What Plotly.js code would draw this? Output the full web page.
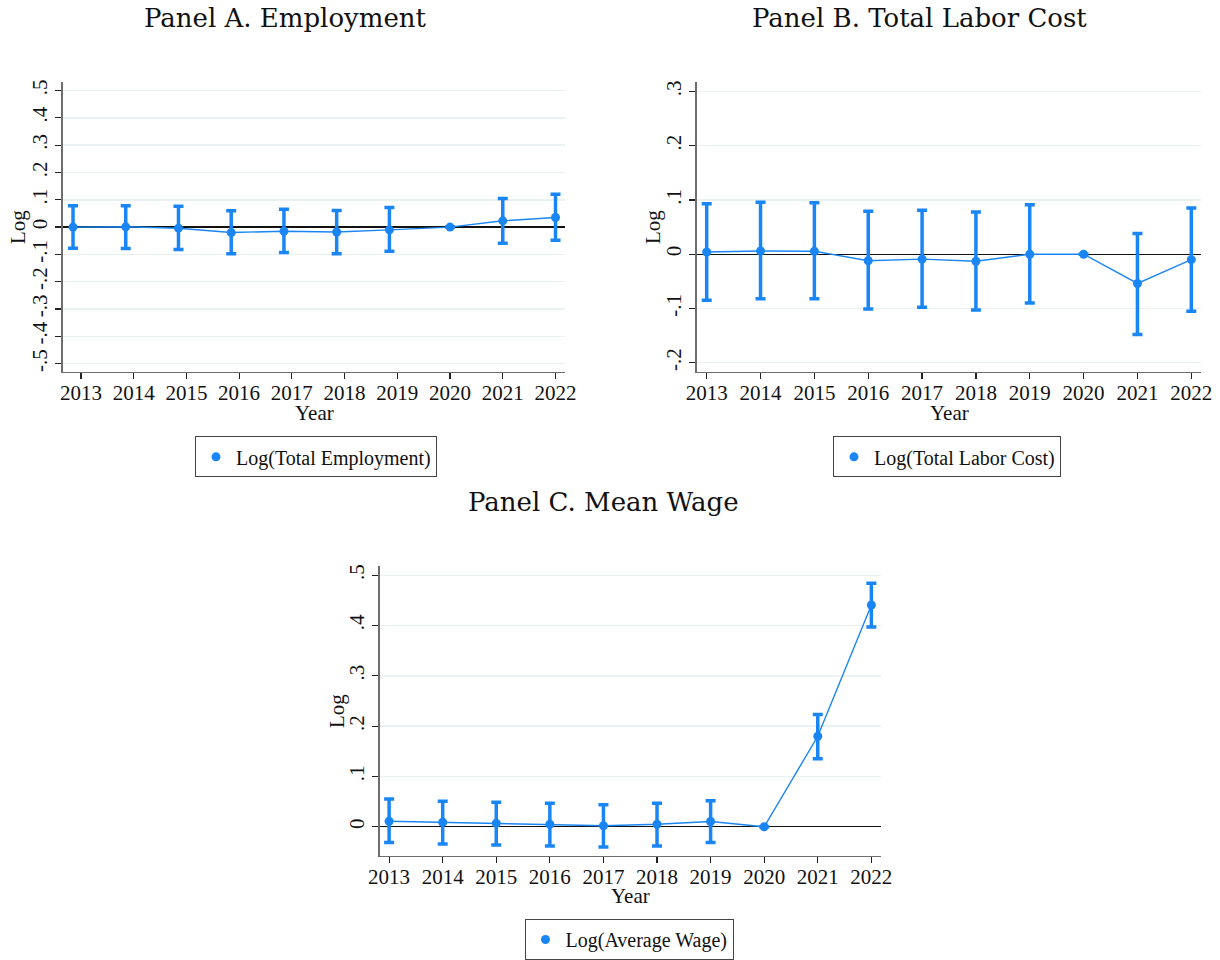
<!DOCTYPE html>
<html>
<head>
<meta charset="utf-8">
<script src="https://cdn.plot.ly/plotly-3.0.1.min.js"></script>
<style>
  html, body { margin: 0; padding: 0; background: #ffffff; }
  #chart { width: 1220px; height: 960px; }
</style>
</head>
<body>
<div id="chart"></div>
<script>
// ---------- data ----------
const years = [2013, 2014, 2015, 2016, 2017, 2018, 2019, 2020, 2021, 2022];
const yearTickLabels = ["2013","2014","2015","2016","2017","2018","2019","2020","2021","2022"];

// Panel A: plotted year positions (pre-2020 estimates are drawn slightly left of the tick)
const yearsA = [2012.85, 2013.85, 2014.85, 2015.85, 2016.85, 2017.85, 2018.85, 2020, 2021, 2022];
const estA = [0.000, 0.001, -0.004, -0.020, -0.015, -0.018, -0.010, 0, 0.023, 0.035];
const hiA  = [0.078, 0.078, 0.076, 0.060, 0.065, 0.061, 0.072, null, 0.105, 0.120];
const loA  = [-0.077, -0.078, -0.082, -0.098, -0.093, -0.098, -0.088, null, -0.059, -0.048];

// Panel B
const estB = [0.004, 0.006, 0.0055, -0.012, -0.009, -0.013, 0.000, 0, -0.054, -0.010];
const hiB  = [0.093, 0.096, 0.095, 0.079, 0.081, 0.078, 0.091, null, 0.038, 0.085];
const loB  = [-0.085, -0.082, -0.082, -0.101, -0.098, -0.103, -0.090, null, -0.148, -0.105];

// Panel C
const estC = [0.011, 0.009, 0.007, 0.005, 0.002, 0.005, 0.0105, 0, 0.180, 0.441];
const hiC  = [0.055, 0.051, 0.049, 0.047, 0.044, 0.047, 0.052, null, 0.223, 0.484];
const loC  = [-0.031, -0.034, -0.036, -0.038, -0.040, -0.038, -0.031, null, 0.1355, 0.397];

const tickValsA = [-0.5, -0.4, -0.3, -0.2, -0.1, 0, 0.1, 0.2, 0.3, 0.4, 0.5];
const tickTextA = ["-.5", "-.4", "-.3", "-.2", "-.1", "0", ".1", ".2", ".3", ".4", ".5"];
const tickValsB = [-0.2, -0.1, 0, 0.1, 0.2, 0.3];
const tickTextB = ["-.2", "-.1", "0", ".1", ".2", ".3"];
const tickValsC = [0, 0.1, 0.2, 0.3, 0.4, 0.5];
const tickTextC = ["0", ".1", ".2", ".3", ".4", ".5"];

const panelTitles = ["Panel A. Employment", "Panel B. Total Labor Cost", "Panel C. Mean Wage"];
const seriesNames = ["Log(Total Employment)", "Log(Total Labor Cost)", "Log(Average Wage)"];

// ---------- styling ----------
const BLUE = "#1a86f5";
const SERIF = "Liberation Serif";
const TITLE_FONT = "DejaVu Serif";
const W = 1220, H = 960;
const px = v => v / W;
const py = v => 1 - v / H;

function errs(est, hi, lo) {
  return {
    plus: est.map((e, i) => hi[i] == null ? null : hi[i] - e),
    minus: est.map((e, i) => lo[i] == null ? null : e - lo[i])
  };
}

function makeTraces(x, est, hi, lo, xa, ya, legendId, name) {
  const e = errs(est, hi, lo);
  return [
    {
      type: "scatter", mode: "lines", x: x, y: est, xaxis: xa, yaxis: ya,
      line: { color: BLUE, width: 1.4 }, showlegend: false, hoverinfo: "skip"
    },
    {
      type: "scatter", mode: "markers", x: x, y: est, xaxis: xa, yaxis: ya,
      name: name, legend: legendId,
      marker: { color: BLUE, size: 9, symbol: "circle" },
      error_y: { type: "data", symmetric: false, array: e.plus, arrayminus: e.minus,
                 color: BLUE, thickness: 3.5, width: 5 }
    }
  ];
}

const data = [
  ...makeTraces(yearsA, estA, hiA, loA, "x", "y", "legend", seriesNames[0]),
  ...makeTraces(years, estB, hiB, loB, "x2", "y2", "legend2", seriesNames[1]),
  ...makeTraces(years, estC, hiC, loC, "x3", "y3", "legend3", seriesNames[2])
];

function xAxis(domain, range, anchor) {
  return {
    domain: domain, range: range, anchor: anchor,
    tickmode: "array", tickvals: years, ticktext: yearTickLabels,
    showgrid: false, zeroline: false,
    showline: true, linecolor: "#6e6e6e", linewidth: 1.6,
    ticks: "outside", ticklen: 6, tickwidth: 1.2, tickcolor: "#222",
    ticklabelstandoff: -5,
    tickfont: { family: SERIF, size: 21, color: "#111" },
    fixedrange: true
  };
}
function yAxis(domain, range, anchor, vals, text) {
  return {
    domain: domain, range: range, anchor: anchor,
    tickmode: "array", tickvals: vals, ticktext: text, tickangle: -90,
    showgrid: true, gridcolor: "#e9f1f2", gridwidth: 1.5,
    zeroline: true, zerolinecolor: "#111", zerolinewidth: 1.3,
    showline: true, linecolor: "#6e6e6e", linewidth: 1.6,
    ticks: "outside", ticklen: 6, tickwidth: 1.2, tickcolor: "#222",
    tickfont: { family: SERIF, size: 21, color: "#111" },
    fixedrange: true
  };
}
function legendBox(cx, top) {
  return {
    x: px(cx), y: py(top), xanchor: "center", yanchor: "top",
    xref: "paper", yref: "paper",
    bordercolor: "#444", borderwidth: 1, bgcolor: "#fff",
    font: { family: SERIF, size: 20, color: "#111" },
    itemwidth: 30
  };
}

const annotations = [
  { text: panelTitles[0], x: px(285), y: py(18), font: { family: TITLE_FONT, size: 26, color: "#111" } },
  { text: panelTitles[1], x: px(919), y: py(18), font: { family: TITLE_FONT, size: 26, color: "#111" } },
  { text: panelTitles[2], x: px(603), y: py(506), font: { family: TITLE_FONT, size: 26, color: "#111" } },
  { text: "Log", x: px(18), y: py(229), textangle: -90, font: { family: SERIF, size: 21, color: "#111" } },
  { text: "Log", x: px(653), y: py(229), textangle: -90, font: { family: SERIF, size: 21, color: "#111" } },
  { text: "Log", x: px(337), y: py(717), textangle: -90, font: { family: SERIF, size: 21, color: "#111" } },
  { text: "Year", x: px(314), y: py(416), font: { family: SERIF, size: 21, color: "#111" } },
  { text: "Year", x: px(949), y: py(416), font: { family: SERIF, size: 21, color: "#111" } },
  { text: "Year", x: px(630), y: py(904), font: { family: SERIF, size: 21, color: "#111" } }
].map(a => Object.assign({ xref: "paper", yref: "paper", xanchor: "center", yanchor: "middle", showarrow: false }, a));

const layout = {
  width: W, height: H,
  margin: { l: 0, r: 0, t: 0, b: 0 },
  paper_bgcolor: "#fff", plot_bgcolor: "#fff",
  showlegend: true,
  xaxis:  xAxis([px(63), px(565)], [2012.66, 2022.18], "y"),
  yaxis:  yAxis([py(375), py(83)], [-0.53, 0.53], "x", tickValsA, tickTextA),
  xaxis2: xAxis([px(697), px(1201)], [2012.82, 2022.18], "y2"),
  yaxis2: yAxis([py(375), py(83)], [-0.217, 0.317], "x2", tickValsB, tickTextB),
  xaxis3: xAxis([px(380), px(881)], [2012.83, 2022.18], "y3"),
  yaxis3: yAxis([py(863), py(571)], [-0.0577, 0.518], "x3", tickValsC, tickTextC),
  legend:  legendBox(316, 440),
  legend2: legendBox(947, 440),
  legend3: legendBox(629, 927),
  annotations: annotations
};

Plotly.newPlot("chart", data, layout, { displayModeBar: false, staticPlot: true });
</script>
</body>
</html>
